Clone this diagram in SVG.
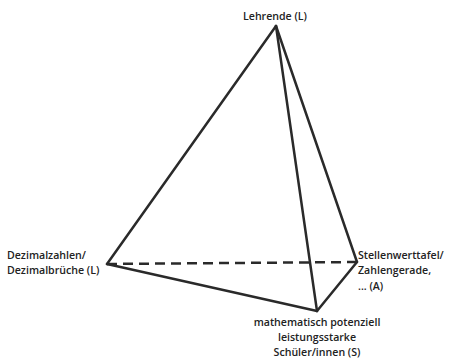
<svg xmlns="http://www.w3.org/2000/svg" width="450" height="360" viewBox="0 0 450 360">
<style>
text{font-family:"Open Sans","Liberation Sans",sans-serif;font-size:10.6px;font-weight:600;fill:#222}
.e{stroke:#2a2a2a;stroke-width:2.5;fill:none;stroke-linecap:round}
.d{stroke-dasharray:10,6;stroke-linecap:butt}
</style>
<rect width="450" height="360" fill="#fff"/>
<g id="connectors">
<line class="e d" x1="107" y1="264" x2="357" y2="262"/>
<line class="e" x1="276" y1="26" x2="107" y2="264"/>
<line class="e" x1="276" y1="26" x2="317" y2="311"/>
<line class="e" x1="276" y1="26" x2="357" y2="262"/>
<line class="e" x1="107" y1="264" x2="317" y2="311"/>
<line class="e" x1="357" y1="262" x2="317" y2="311"/>
</g>
<g id="nodeL"><text x="275" y="20" text-anchor="middle">Lehrende (L)</text></g>
<g id="nodeD"><text x="7" y="259">Dezimalzahlen/</text><text x="7" y="274">Dezimalbrüche (L)</text></g>
<g id="nodeA"><text x="358" y="259">Stellenwerttafel/</text><text x="358" y="274">Zahlengerade,</text><text x="358" y="290">... (A)</text></g>
<g id="nodeS"><text x="317" y="326" text-anchor="middle">mathematisch potenziell</text><text x="317" y="341" text-anchor="middle">leistungsstarke</text><text x="317" y="356" text-anchor="middle">Schüler/innen (S)</text></g>
</svg>
